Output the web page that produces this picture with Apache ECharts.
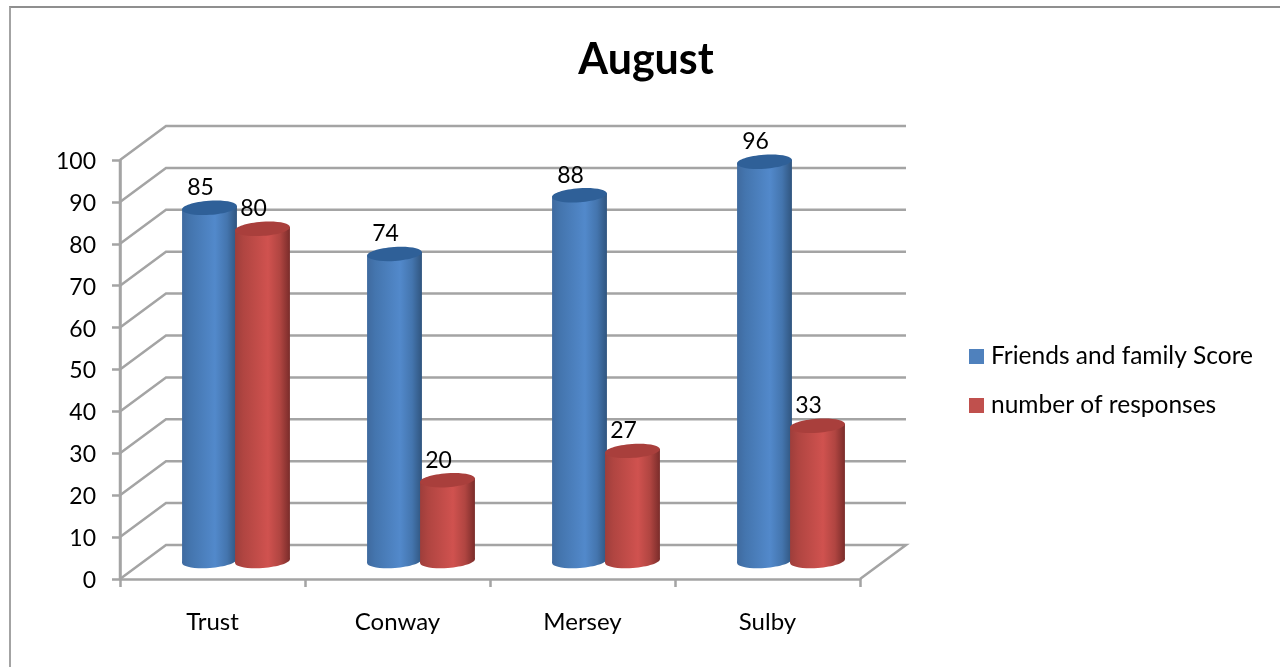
<!DOCTYPE html>
<html>
<head>
<meta charset="utf-8">
<title>August</title>
<script src="https://cdn.jsdelivr.net/npm/echarts@6/dist/echarts.min.js"></script>
<style>
html, body { margin: 0; padding: 0; background: #fff; overflow: hidden; }
#frame {
  position: absolute; left: 9px; top: 6px; right: 0; bottom: 0;
  border-top: 2px solid #8f8f8f; border-left: 2px solid #a3a3a3;
}
#myChart { position: absolute; left: 0; top: 0; width: 1280px; height: 667px; }
</style>
</head>
<body>
<div id="frame"></div>
<div id="myChart"></div>
<script>
var categories = ["Trust", "Conway", "Mersey", "Sulby"];
var friendsScore = [85, 74, 88, 96];
var responses = [80, 20, 27, 33];
var yTicks = [0, 10, 20, 30, 40, 50, 60, 70, 80, 90, 100];

var FONT = "Lato";
var DEPTH_X = 46;
var DEPTH_Y = 34;
var LINE = { stroke: "#a4a4a4", lineWidth: 2.5, fill: "none" };

function bodyGradient(left, mid, right) {
  return new echarts.graphic.LinearGradient(0, 0, 1, 0, [
    { offset: 0, color: left },
    { offset: 0.15, color: mid[0] },
    { offset: 0.6, color: mid[1] },
    { offset: 0.82, color: mid[0] },
    { offset: 1, color: right }
  ]);
}

function renderWall(params, api) {
  var rect = params.coordSys;
  var y = api.coord([0, api.value(0)])[1];
  var x0 = rect.x;
  var points = [
    [x0, y],
    [x0 + DEPTH_X, y - DEPTH_Y],
    [x0 + rect.width + DEPTH_X, y - DEPTH_Y]
  ];
  if (api.value(0) === 0) {
    points.push([x0 + rect.width, y]);
  }
  var children = [{ type: "polyline", shape: { points: points }, style: LINE }];
  // front vertical edge of the box
  if (api.value(0) === 100) {
    children.push({
      type: "line",
      shape: { x1: x0, y1: y, x2: x0, y2: api.coord([0, 0])[1] },
      style: { stroke: "#a4a4a4", lineWidth: 2.5 }
    });
  }
  return { type: "group", children: children };
}

function cylinder(offset, gradient, topColor) {
  return function(params, api) {
    var p = api.coord([api.value(0), api.value(1)]);
    var base = api.coord([api.value(0), 0]);
    var cx = p[0] + offset;
    var yTop = p[1] - 15;
    var yBase = base[1] - 18;
    var rx = 27.5, ry = 7, tilt = 0.07;
    var dx = rx * Math.cos(tilt), dy = rx * Math.sin(tilt);
    return {
      type: "group",
      children: [
        {
          type: "ellipse",
          shape: { cx: cx, cy: yBase, rx: rx, ry: ry },
          originX: cx, originY: yBase, rotation: tilt,
          style: { fill: gradient }
        },
        {
          type: "polygon",
          shape: { points: [[cx - dx, yTop + dy], [cx + dx, yTop - dy], [cx + dx, yBase - dy], [cx - dx, yBase + dy]] },
          style: { fill: gradient }
        },
        {
          type: "ellipse",
          shape: { cx: cx, cy: yTop, rx: rx, ry: ry },
          originX: cx, originY: yTop, rotation: tilt,
          style: { fill: topColor }
        },
        {
          type: "text",
          x: cx - 9,
          y: yTop - 20,
          z2: 10,
          style: {
            text: String(api.value(1)),
            fontFamily: FONT, fontSize: 23, fill: "#000",
            textAlign: "center", textVerticalAlign: "middle"
          }
        }
      ]
    };
  };
}

function toPairs(values) {
  return values.map(function(v, i) { return [i, v]; });
}

var chart = echarts.init(document.getElementById("myChart"));
chart.setOption({
  animation: false,
  backgroundColor: "transparent",
  title: {
    text: "August",
    left: 641,
    top: 34,
    textAlign: "center",
    textStyle: { fontFamily: FONT, fontSize: 43, fontWeight: "bold", color: "#000" }
  },
  legend: {
    orient: "vertical",
    left: 969,
    top: 344,
    padding: 0,
    itemWidth: 15,
    itemHeight: 15,
    itemGap: 24,
    selectedMode: false,
    icon: "rect",
    data: ["Friends and family Score", "number of responses"],
    textStyle: { fontFamily: FONT, fontSize: 24.5, color: "#000", padding: [0, 0, 0, 2] }
  },
  grid: { left: 120, right: 420, top: 160, bottom: 88 },
  xAxis: {
    type: "category",
    data: categories,
    axisLine: { show: true, lineStyle: { color: "#a4a4a4", width: 2.5 } },
    axisTick: { show: true, length: 8, lineStyle: { color: "#a4a4a4", width: 2.5 } },
    axisLabel: { margin: 31, fontFamily: FONT, fontSize: 24, color: "#000" }
  },
  yAxis: {
    type: "value",
    min: 0,
    max: 100,
    interval: 10,
    splitLine: { show: false },
    axisLine: { show: true, lineStyle: { color: "#a4a4a4", width: 2.5 } },
    axisTick: { show: true, length: 8, lineStyle: { color: "#a4a4a4", width: 2.5 } },
    axisLabel: {
      margin: 24,
      formatter: "{a|{value}}",
      rich: { a: { padding: [3, 0, 0, 0], fontFamily: FONT, fontSize: 23, color: "#000" } }
    }
  },
  series: [
    {
      name: "wall",
      type: "custom",
      renderItem: renderWall,
      silent: true,
      clip: false,
      encode: { y: 0 },
      data: yTicks.map(function(v) { return [v]; }),
      z: 1
    },
    {
      name: "Friends and family Score",
      type: "custom",
      renderItem: cylinder(-3, bodyGradient("#3f6a9f", ["#4475ae", "#5289cb"], "#30557f"), "#2f6098"),
      itemStyle: { color: "#4f81bd" },
      encode: { x: 0, y: 1 },
      clip: false,
      data: toPairs(friendsScore),
      z: 2
    },
    {
      name: "number of responses",
      type: "custom",
      renderItem: cylinder(50, bodyGradient("#9e3e3b", ["#b04541", "#d0524f"], "#7a2c2a"), "#a93f3c"),
      itemStyle: { color: "#c0504d" },
      encode: { x: 0, y: 1 },
      clip: false,
      data: toPairs(responses),
      z: 3
    }
  ]
});
</script>
</body>
</html>
